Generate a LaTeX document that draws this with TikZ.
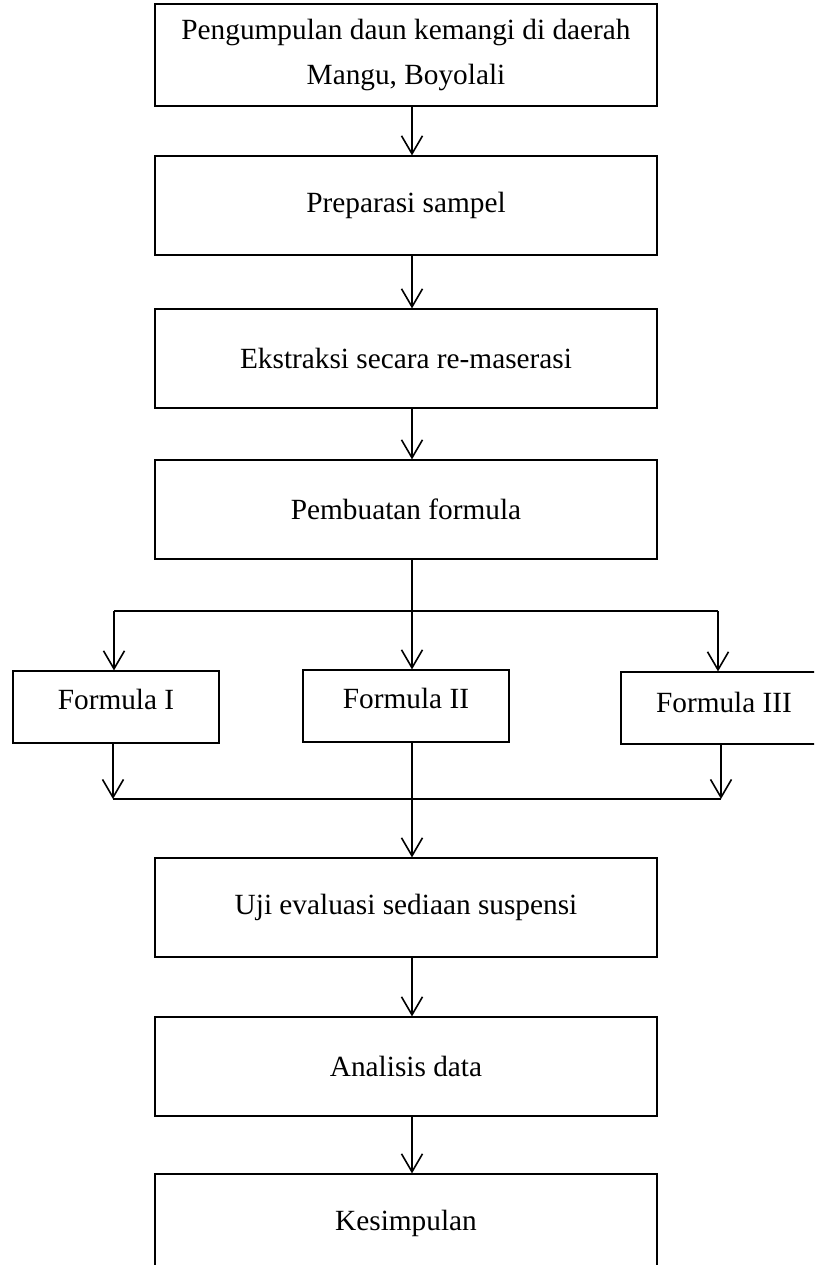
\documentclass[tikz,border=0pt]{standalone}
\usepackage{fontspec}
\setmainfont{Liberation Serif}
\usetikzlibrary{arrows.meta}

\begin{document}
\begin{tikzpicture}[x=1pt, y=-1pt,
	box/.style={draw, line width=1.2pt, inner sep=0pt, align=center,
		minimum width=502pt, minimum height=99pt,
		font=\fontsize{29.3}{44}\selectfont},
	fbox/.style={box, minimum width=206pt, minimum height=72pt},
	conn/.style={line width=1.6pt},
	arr/.style={conn, -{Straight Barb[length=18pt, width=21pt]}}]
	\useasboundingbox (0,0) rectangle (814,1265);
	\clip (0,0) rectangle (814,1265);

	\node[box, minimum height=102pt] (kumpul) at (406,55) {Pengumpulan daun kemangi di daerah\\Mangu, Boyolali};
	\node[box] (prep) at (406,205.5) {Preparasi sampel};
	\node[box] (ekstrak) at (406,358.5) {Ekstraksi secara re-maserasi};
	\node[box] (buat) at (406,509.5) {Pembuatan formula};

	\node[fbox] (f1) at (116,707) {Formula I\\[-29pt]};
	\node[fbox] (f2) at (406,706) {Formula II\\[-28pt]};
	\node[fbox] (f3) at (724,708) {Formula III\\[-32pt]};

	\node[box] (uji) at (406,907.5) {Uji evaluasi sediaan suspensi};
	\node[box] (analisis) at (406,1066.5) {Analisis data};
	\node[box] (simpul) at (406,1223.5) {Kesimpulan};

	\coordinate (spine) at (412,0);
	\coordinate (split) at (412,611);
	\coordinate (join) at (412,799);
	\coordinate (splitL) at (114,611);
	\coordinate (splitR) at (718,611);
	\coordinate (joinL) at (113,799);
	\coordinate (joinR) at (721,799);

	\draw[arr] (kumpul.south -| spine) -- (prep.north -| spine);
	\draw[arr] (prep.south -| spine) -- (ekstrak.north -| spine);
	\draw[arr] (ekstrak.south -| spine) -- (buat.north -| spine);

	% cabang ke tiga formula
	\draw[conn] (buat.south -| spine) -- (split);
	\draw[conn] (splitL) -- (splitR);
	\draw[arr] (splitL) -- (f1.north -| splitL);
	\draw[arr] (split) -- (f2.north -| split);
	\draw[arr] (splitR) -- (f3.north -| splitR);

	% gabung lagi
	\draw[arr] (f1.south -| joinL) -- (joinL);
	\draw[arr] (f3.south -| joinR) -- (joinR);
	\draw[conn] (joinL) -- (joinR);
	\draw[arr] (f2.south -| join) -- (uji.north -| join);

	\draw[arr] (uji.south -| spine) -- (analisis.north -| spine);
	\draw[arr] (analisis.south -| spine) -- (simpul.north -| spine);
\end{tikzpicture}
\end{document}
